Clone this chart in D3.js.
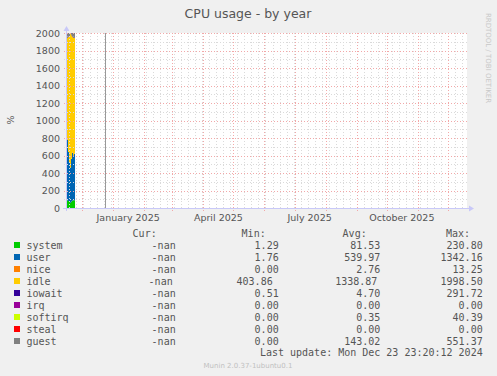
<!DOCTYPE html>
<html>
<head>
<meta charset="utf-8">
<script src="https://cdn.jsdelivr.net/npm/d3@7/dist/d3.min.js"></script>
<style>
  body { margin: 0; background: #f0f0f0; }
  svg { display: block; }
</style>
</head>
<body>
<script>
// legend table
const names = ['system', 'user', 'nice', 'idle', 'iowait', 'irq', 'softirq', 'steal', 'guest'];
const colors = ['#00cc00', '#0066b3', '#ff8000', '#ffcc00', '#330099', '#990099', '#ccff00', '#ff0000', '#808080'];
const curVals = ['-nan', '-nan', '-nan', '-nan', '-nan', '-nan', '-nan', '-nan', '-nan'];
const minVals = ['1.29', '1.76', '0.00', '403.86', '0.51', '0.00', '0.00', '0.00', '0.00'];
const avgVals = ['81.53', '539.97', '2.76', '1338.87', '4.70', '0.00', '0.35', '0.00', '143.02'];
const maxVals = ['230.80', '1342.16', '13.25', '1998.50', '291.72', '0.00', '40.39', '0.00', '551.37'];

// daily samples (one pixel each on the year graph)
const days = ['2024-11-15', '2024-11-16', '2024-11-17', '2024-11-18', '2024-11-19', '2024-11-20', '2024-11-21', '2024-11-22', '2024-11-23'];
const system = [95, 90, 80, 70, 60, 75, 85, 90, 90];
const user = [605, 690, 560, 450, 400, 485, 545, 510, 530];
const nice = [3, 3, 2, 2, 2, 3, 3, 3, 3];
const idle = [1237, 1167, 1313, 1438, 1528, 1412, 1322, 1347, 1322];
const iowait = [20, 8, 4, 4, 3, 4, 5, 5, 6];
const irq = [0, 0, 0, 0, 0, 0, 0, 0, 0];
const softirq = [1, 1, 1, 1, 1, 1, 1, 1, 1];
const steal = [0, 0, 0, 0, 0, 0, 0, 0, 0];
const guest = [60, 60, 55, 55, 30, 40, 55, 60, 60];

const yTicks = [0, 200, 400, 600, 800, 1000, 1200, 1400, 1600, 1800, 2000];
const xLabels = ['2025-01-01', '2025-04-01', '2025-07-01', '2025-10-01'];
const startDate = '2024-11-15';
const endDate = '2025-12-20';
const lastUpdate = '2024-12-23T23:20:12';

const W = 497, H = 376;
const plot = {left: 66, right: 467, top: 33, bottom: 208};
const textColor = '#555';
const parse = d3.timeParse('%Y-%m-%d');

const x = d3.scaleTime().domain([parse(startDate), parse(endDate)]).range([plot.left, plot.right]);
const y = d3.scaleLinear().domain([0, 2000]).range([plot.bottom, plot.top]);

const svg = d3.select('body').append('svg').attr('width', W).attr('height', H);

svg.append('text')
  .attr('x', 248).attr('y', 18)
  .attr('text-anchor', 'middle')
  .attr('font-family', 'DejaVu Sans').attr('font-size', 12.5)
  .attr('fill', textColor)
  .text('CPU usage - by year');

svg.append('rect')
  .attr('x', plot.left).attr('y', plot.top)
  .attr('width', plot.right - plot.left).attr('height', plot.bottom - plot.top)
  .attr('fill', '#fff');

svg.append('defs').append('clipPath').attr('id', 'clip')
  .append('rect')
  .attr('x', plot.left).attr('y', plot.top)
  .attr('width', plot.right - plot.left).attr('height', plot.bottom - plot.top);

// stacked areas
const series = {system, user, nice, idle, iowait, irq, softirq, steal, guest};
const table = days.map((d, i) => {
  const row = {date: parse(d)};
  names.forEach(n => row[n] = series[n][i]);
  return row;
});
const stack = d3.stack().keys(names)(table);
const area = d3.area()
  .x(d => x(d.date))
  .y0(d => y(d.y0))
  .y1(d => y(d.y1))
  .curve(d3.curveStepAfter);

const gData = svg.append('g').attr('clip-path', 'url(#clip)');
stack.forEach((layer, k) => {
  const pts = layer.map((d, i) => ({date: table[i].date, y0: d[0], y1: d[1]}));
  const last = pts[pts.length - 1];
  pts.push({date: d3.timeDay.offset(last.date, 1), y0: last.y0, y1: last.y1});
  gData.append('path')
    .attr('d', area(pts))
    .attr('fill', colors[k]);
});

// grid
const minorColor = '#dadada';
const majorColor = '#f2a8a8';
const gGrid = svg.append('g');

d3.range(0, 2001, 100).filter(v => v % 200 !== 0).forEach(v => {
  gGrid.append('line')
    .attr('x1', plot.left - 2).attr('x2', plot.right)
    .attr('y1', Math.round(y(v)) + 0.5).attr('y2', Math.round(y(v)) + 0.5)
    .attr('stroke', minorColor).attr('stroke-dasharray', '1,2');
});

d3.timeMonday.range(parse(startDate), parse(endDate)).forEach(d => {
  gGrid.append('line')
    .attr('x1', Math.round(x(d)) + 0.5).attr('x2', Math.round(x(d)) + 0.5)
    .attr('y1', plot.top).attr('y2', plot.bottom + 2)
    .attr('stroke', minorColor).attr('stroke-dasharray', '1,2');
});

yTicks.forEach(v => {
  gGrid.append('line')
    .attr('x1', plot.left - 2).attr('x2', plot.right)
    .attr('y1', Math.round(y(v)) + 0.5).attr('y2', Math.round(y(v)) + 0.5)
    .attr('stroke', majorColor).attr('stroke-dasharray', '1,2');
});

d3.timeMonth.range(parse(startDate), parse(endDate)).forEach(d => {
  gGrid.append('line')
    .attr('x1', Math.round(x(d)) + 0.5).attr('x2', Math.round(x(d)) + 0.5)
    .attr('y1', plot.top).attr('y2', plot.bottom + 3)
    .attr('stroke', majorColor).attr('stroke-dasharray', '1,2');
});

// last update rule
const lu = new Date(lastUpdate);
svg.append('line')
  .attr('x1', Math.round(x(lu)) + 0.5).attr('x2', Math.round(x(lu)) + 0.5)
  .attr('y1', plot.top).attr('y2', plot.bottom)
  .attr('stroke', '#999');

// tick labels
yTicks.forEach(v => {
  svg.append('text')
    .attr('x', plot.left - 6).attr('y', y(v) + 3.5)
    .attr('text-anchor', 'end')
    .attr('font-family', 'DejaVu Sans').attr('font-size', 9.5)
    .attr('fill', textColor)
    .text(v);
});

const fmt = d3.timeFormat('%B %Y');
xLabels.forEach(s => {
  const d = parse(s);
  svg.append('text')
    .attr('x', x(d3.timeDay.offset(d, 15))).attr('y', 221)
    .attr('text-anchor', 'middle')
    .attr('font-family', 'DejaVu Sans').attr('font-size', 9.5)
    .attr('fill', textColor)
    .text(fmt(d));
});

// axes with arrows
const axisColor = '#c8c8f8';
svg.append('line')
  .attr('x1', plot.left - 3).attr('x2', plot.right + 3)
  .attr('y1', plot.bottom + 0.5).attr('y2', plot.bottom + 0.5)
  .attr('stroke', axisColor);
svg.append('path')
  .attr('d', `M${plot.right + 2},${plot.bottom - 2.5} L${plot.right + 7},${plot.bottom + 0.5} L${plot.right + 2},${plot.bottom + 3.5} Z`)
  .attr('fill', axisColor);
svg.append('line')
  .attr('x1', plot.left + 0.5).attr('x2', plot.left + 0.5)
  .attr('y1', plot.bottom + 3).attr('y2', plot.top - 3)
  .attr('stroke', axisColor);
svg.append('path')
  .attr('d', `M${plot.left - 2.5},${plot.top - 2} L${plot.left + 0.5},${plot.top - 7} L${plot.left + 3.5},${plot.top - 2} Z`)
  .attr('fill', axisColor);

svg.append('text')
  .attr('transform', 'translate(14,120) rotate(-90)')
  .attr('text-anchor', 'middle')
  .attr('font-family', 'DejaVu Sans').attr('font-size', 9.5)
  .attr('fill', textColor)
  .text('%');

svg.append('text')
  .attr('transform', 'translate(486,58) rotate(90)')
  .attr('text-anchor', 'middle')
  .attr('font-family', 'DejaVu Sans').attr('font-size', 7)
  .attr('fill', '#c8c8c8')
  .text('RRDTOOL / TOBI OETIKER');

// legend
const mono = 'DejaVu Sans Mono';
const colEnds = [175.7, 278.7, 380.3, 482.7];
const headEnds = [156.7, 265.7, 366.7, 470];
const rowShift = {idle: [-3, -6, -3, 0]};

['Cur:', 'Min:', 'Avg:', 'Max:'].forEach((h, j) => {
  svg.append('text')
    .attr('x', headEnds[j]).attr('y', 237)
    .attr('text-anchor', 'end')
    .attr('font-family', mono).attr('font-size', 10)
    .attr('fill', textColor)
    .text(h);
});

names.forEach((n, i) => {
  const cy = 245 + i * 12;
  svg.append('rect')
    .attr('x', 14).attr('y', cy - 3)
    .attr('width', 6).attr('height', 6)
    .attr('fill', colors[i]);
  svg.append('text')
    .attr('x', 26.5).attr('y', cy + 3.5)
    .attr('font-family', mono).attr('font-size', 10)
    .attr('fill', textColor)
    .text(n);
  const shift = rowShift[n] || [0, 0, 0, 0];
  [curVals[i], minVals[i], avgVals[i], maxVals[i]].forEach((v, j) => {
    svg.append('text')
      .attr('x', colEnds[j] + shift[j]).attr('y', cy + 3.5)
      .attr('text-anchor', 'end')
      .attr('font-family', mono).attr('font-size', 10)
      .attr('fill', textColor)
      .text(v);
  });
});

svg.append('text')
  .attr('x', 482.7).attr('y', 356)
  .attr('text-anchor', 'end')
  .attr('font-family', mono).attr('font-size', 10)
  .attr('fill', textColor)
  .text('Last update: Mon Dec 23 23:20:12 2024');

svg.append('text')
  .attr('x', 248).attr('y', 368)
  .attr('text-anchor', 'middle')
  .attr('font-family', 'DejaVu Sans').attr('font-size', 7)
  .attr('fill', '#c0c0c0')
  .text('Munin 2.0.37-1ubuntu0.1');
</script>
</body>
</html>
